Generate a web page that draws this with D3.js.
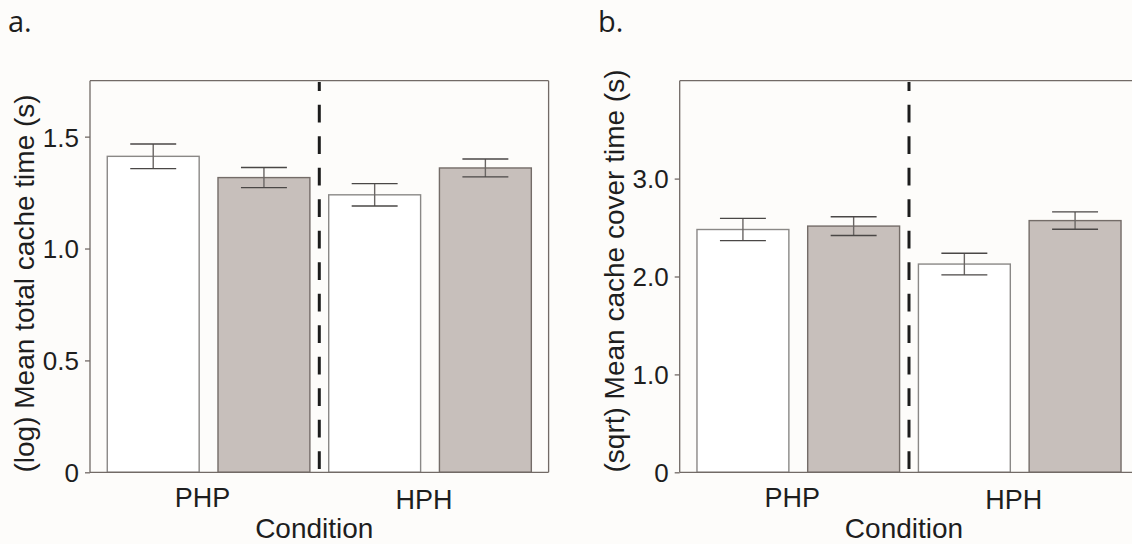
<!DOCTYPE html>
<html>
<head>
<meta charset="utf-8">
<script src="https://cdn.jsdelivr.net/npm/d3@7"></script>
<style>
  html, body { margin: 0; padding: 0; background: #fdfcfa; }
  svg { display: block; overflow: hidden; }
  text { font-family: "Liberation Sans", Arial, sans-serif; fill: #1e1e1e; }
</style>
</head>
<body>
<svg id="chart" width="1132" height="544"></svg>
<script>
// ---- data ----
const conditions = ["PHP", "HPH"];
const series = ["white", "grey"];

// panel a: (log) mean total cache time (s)
const totalCacheWhite = [1.412, 1.240];
const totalCacheWhiteErr = [0.055, 0.050];
const totalCacheGrey = [1.317, 1.360];
const totalCacheGreyErr = [0.045, 0.040];
const totalCacheTicks = [0, 0.5, 1.0, 1.5];
const totalCacheTickLabels = ["0", "0.5", "1.0", "1.5"];

// panel b: (sqrt) mean cache cover time (s)
const coverWhite = [2.480, 2.127];
const coverWhiteErr = [0.114, 0.110];
const coverGrey = [2.515, 2.571];
const coverGreyErr = [0.096, 0.089];
const coverTicks = [0, 1, 2, 3];
const coverTickLabels = ["0", "1.0", "2.0", "3.0"];

const xTitle = "Condition";

// ---- layout ----
const svg = d3.select("#chart");
const plotTop = 80.7, plotBottom = 472.3, plotW = 458.6;

const fills = { white: "#ffffff", grey: "#c7bfbb" };
const strokes = { white: "#8a8886", grey: "#746c68" };

function panel(opts) {
  const x0 = opts.x0;
  const g = svg.append("g");
  const keys = [];
  conditions.forEach((c, i) => series.forEach(s => keys.push({ cond: c, s: s, i: i })));
  const x = d3.scaleBand()
    .domain(keys.map(k => k.cond + "-" + k.s))
    .range([x0, x0 + plotW])
    .paddingInner(0.17)
    .paddingOuter(0.156);
  const y = d3.scaleLinear().domain(opts.domain).range([plotBottom, plotTop]);

  const data = keys.map(k => ({
    key: k.cond + "-" + k.s,
    s: k.s,
    v: k.s === "white" ? opts.white[k.i] : opts.grey[k.i],
    e: k.s === "white" ? opts.whiteErr[k.i] : opts.greyErr[k.i]
  }));

  // bars
  g.selectAll("rect.bar").data(data).join("rect")
    .attr("class", "bar")
    .attr("x", d => x(d.key))
    .attr("width", x.bandwidth())
    .attr("y", d => y(d.v))
    .attr("height", d => y(0) - y(d.v))
    .attr("fill", d => fills[d.s])
    .attr("stroke", d => strokes[d.s])
    .attr("stroke-width", 1.4);

  // error bars
  const capW = x.bandwidth() * 0.5;
  const eb = g.selectAll("g.err").data(data).join("g").attr("class", "err")
    .attr("stroke", "#4a4746").attr("stroke-width", 1.4).attr("fill", "none");
  eb.append("line")
    .attr("x1", d => x(d.key) + x.bandwidth() / 2).attr("x2", d => x(d.key) + x.bandwidth() / 2)
    .attr("y1", d => y(d.v - d.e)).attr("y2", d => y(d.v + d.e))
    .attr("stroke", "#6a6664");
  eb.append("line")
    .attr("x1", d => x(d.key) + x.bandwidth() / 2 - capW / 2).attr("x2", d => x(d.key) + x.bandwidth() / 2 + capW / 2)
    .attr("y1", d => y(d.v + d.e)).attr("y2", d => y(d.v + d.e));
  eb.append("line")
    .attr("x1", d => x(d.key) + x.bandwidth() / 2 - capW / 2).attr("x2", d => x(d.key) + x.bandwidth() / 2 + capW / 2)
    .attr("y1", d => y(d.v - d.e)).attr("y2", d => y(d.v - d.e));

  // frame
  const frameColor = "#726a66";
  g.append("line").attr("x1", x0).attr("x2", x0 + plotW).attr("y1", plotTop).attr("y2", plotTop)
    .attr("stroke", frameColor).attr("stroke-width", 1.3);
  g.append("line").attr("x1", x0).attr("x2", x0 + plotW).attr("y1", plotBottom).attr("y2", plotBottom)
    .attr("stroke", frameColor).attr("stroke-width", 1.3);
  g.append("line").attr("x1", x0 + plotW).attr("x2", x0 + plotW).attr("y1", plotTop).attr("y2", plotBottom)
    .attr("stroke", frameColor).attr("stroke-width", 1.3);

  // y axis
  const ax = g.append("g").attr("transform", `translate(${x0},0)`)
    .call(d3.axisLeft(y).tickValues(opts.ticks).tickFormat((d, i) => opts.tickLabels[i])
      .tickSize(5).tickPadding(6).tickSizeOuter(0));
  ax.select(".domain").attr("stroke", frameColor).attr("stroke-width", 1.3)
    .attr("d", `M0,${plotTop}V${plotBottom}`);
  ax.selectAll(".tick line").attr("stroke", frameColor).attr("stroke-width", 1.3);
  ax.selectAll(".tick text").attr("font-size", 26).attr("font-family", "Liberation Sans, Arial, sans-serif")
    .attr("fill", "#1e1e1e").attr("dy", "0.36em");

  // dashed separator between conditions
  const sepX = (x(conditions[0] + "-grey") + x.bandwidth() + x(conditions[1] + "-white")) / 2;
  g.append("line").attr("x1", sepX).attr("x2", sepX).attr("y1", 82).attr("y2", 476)
    .attr("stroke", "#1c1c1c").attr("stroke-width", 3)
    .attr("stroke-dasharray", "17.8,13.7").attr("stroke-dashoffset", 8.8);

  // condition labels
  conditions.forEach((c, i) => {
    const cx = (x(c + "-white") + x(c + "-grey") + x.bandwidth()) / 2 - 6;
    g.append("text").attr("x", cx).attr("y", i === 0 ? 506.5 : 509)
      .attr("text-anchor", "middle").attr("font-size", 27).text(c);
  });

  // x title
  g.append("text").attr("x", x0 + plotW / 2 - 5).attr("y", 538)
    .attr("text-anchor", "middle").attr("font-size", 28).text(xTitle);

  // y title
  g.append("text")
    .attr("transform", `translate(${x0 - 56},472.5) rotate(-90)`)
    .attr("text-anchor", "start").attr("font-size", 28).text(opts.yTitle);

  // panel letter
  svg.append("text").attr("x", opts.letterX).attr("y", 32)
    .attr("font-family", "Open Sans, sans-serif").attr("font-size", 29)
    .style("font-family", "'Open Sans', sans-serif")
    .text(opts.letter);
}

panel({
  x0: 90, domain: [0, 1.75],
  white: totalCacheWhite, whiteErr: totalCacheWhiteErr,
  grey: totalCacheGrey, greyErr: totalCacheGreyErr,
  ticks: totalCacheTicks, tickLabels: totalCacheTickLabels,
  yTitle: "(log) Mean total cache time (s)",
  letter: "a.", letterX: 8
});

panel({
  x0: 679.7, domain: [0, 4],
  white: coverWhite, whiteErr: coverWhiteErr,
  grey: coverGrey, greyErr: coverGreyErr,
  ticks: coverTicks, tickLabels: coverTickLabels,
  yTitle: "(sqrt) Mean cache cover time (s)",
  letter: "b.", letterX: 598
});
</script>
</body>
</html>
